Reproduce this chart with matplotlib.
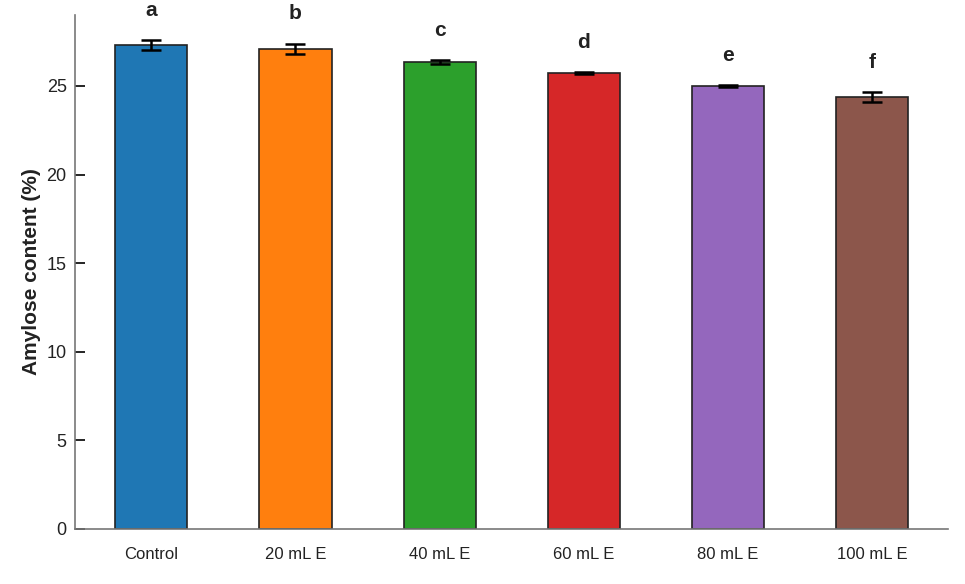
import numpy as np
import matplotlib; matplotlib.use("Agg")
import matplotlib.pyplot as plt
plt.rcParams.update({"font.family":["Arial","Liberation Sans","DejaVu Sans"]})

groups=["Control","20 mL E","40 mL E","60 mL E","80 mL E","100 mL E"]
means=[27.31,27.09,26.35,25.73,25.00,24.38]
sds=[0.28,0.30,0.12,0.05,0.05,0.28]
letters=["a","b","c","d","e","f"]
colors=["#1f77b4","#ff7f0e","#2ca02c","#d62728","#9467bd","#8c564b"]

fig=plt.figure(figsize=(9.65,5.84),dpi=100)
ax=fig.add_axes([0.0777,0.0942,0.905,0.88])
x=np.arange(len(groups))
ax.bar(x,means,width=0.5,color=colors,edgecolor="#222222",lw=1.2,
       yerr=sds,capsize=7,error_kw=dict(ecolor="black",elinewidth=1.8,capthick=1.8))
for xi,m,s,l in zip(x,means,sds,letters):
    ax.text(xi,m+s+1.15,l,ha="center",va="bottom",fontsize=15,fontweight="bold",color="#222222")
ax.set_xlim(-0.53,5.53); ax.set_ylim(0,29)
ax.set_xticks(x); ax.set_xticklabels(groups,fontsize=12,color="#222222")
ax.tick_params(axis="x",length=0,pad=13)
ax.set_yticks([0,5,10,15,20,25])
ax.tick_params(axis="y",direction="in",length=7,width=1.2,labelsize=13,colors="black",labelcolor="#222222",pad=6)
ax.set_ylabel("Amylose content (%)",fontsize=15,fontweight="bold",color="#222222",labelpad=4)
for s in ["top","right"]: ax.spines[s].set_visible(False)
for s in ["left","bottom"]:
    ax.spines[s].set_color("#777777"); ax.spines[s].set_linewidth(1.2)
fig.savefig("out.png",dpi=100)
